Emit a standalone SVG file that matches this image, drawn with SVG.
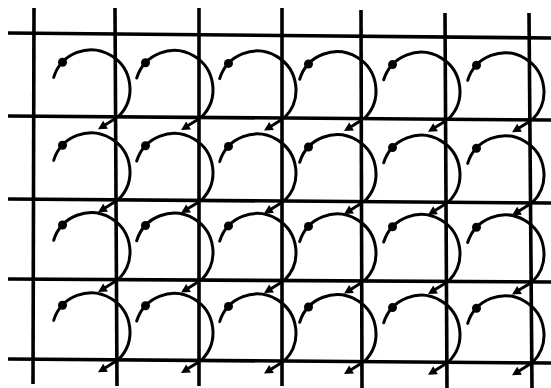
<svg xmlns="http://www.w3.org/2000/svg" xmlns:xlink="http://www.w3.org/1999/xlink" width="551" height="388" viewBox="0 0 551 388">
<style>
.grid{stroke:#000;stroke-width:3.6;stroke-linecap:butt;fill:none}
.arc{stroke:#000;stroke-width:3;fill:none;stroke-linecap:round}
.arr{stroke:#000;stroke-width:3;fill:none;stroke-linecap:round}
.blk{fill:#000}
</style>
<defs>
<g id="cellArrow">
<path class="arc" d="M -62.3 -39.4 A 39 39 0 1 1 2.6 -0.4"/>
<circle class="blk" cx="-53.5" cy="-54.6" r="4.5"/>
<line class="arr" x1="-1" y1="2" x2="-11" y2="8.2"/>
<polygon class="blk" points="-18,12.5 -8.1,12 -12.8,4"/>
</g>
</defs>
<rect width="551" height="388" fill="#fff"/>
<g id="grid">
<line class="grid" x1="8" y1="33" x2="551" y2="38"/>
<line class="grid" x1="8" y1="116" x2="551" y2="120"/>
<line class="grid" x1="8" y1="199" x2="551" y2="203"/>
<line class="grid" x1="8" y1="279" x2="551" y2="282"/>
<line class="grid" x1="8" y1="359" x2="551" y2="363"/>
<line class="grid" x1="34" y1="8" x2="33" y2="384"/>
<line class="grid" x1="115" y1="8" x2="117" y2="386"/>
<line class="grid" x1="199" y1="8" x2="199" y2="386"/>
<line class="grid" x1="282" y1="8" x2="282" y2="386"/>
<line class="grid" x1="361" y1="10" x2="362" y2="388"/>
<line class="grid" x1="445" y1="13" x2="447" y2="388"/>
<line class="grid" x1="529" y1="13" x2="532" y2="388"/>
</g>
<g id="connectors">
<use xlink:href="#cellArrow" x="116" y="116.8"/>
<use xlink:href="#cellArrow" x="199" y="117.4"/>
<use xlink:href="#cellArrow" x="282" y="118"/>
<use xlink:href="#cellArrow" x="362" y="118.6"/>
<use xlink:href="#cellArrow" x="446" y="119.2"/>
<use xlink:href="#cellArrow" x="530" y="119.8"/>
<use xlink:href="#cellArrow" x="116" y="199.8"/>
<use xlink:href="#cellArrow" x="199" y="200.4"/>
<use xlink:href="#cellArrow" x="282" y="201"/>
<use xlink:href="#cellArrow" x="362" y="201.6"/>
<use xlink:href="#cellArrow" x="446" y="202.2"/>
<use xlink:href="#cellArrow" x="530" y="202.8"/>
<use xlink:href="#cellArrow" x="116" y="279.6"/>
<use xlink:href="#cellArrow" x="199" y="280.1"/>
<use xlink:href="#cellArrow" x="282" y="280.5"/>
<use xlink:href="#cellArrow" x="362" y="281"/>
<use xlink:href="#cellArrow" x="446" y="281.4"/>
<use xlink:href="#cellArrow" x="530" y="281.9"/>
<use xlink:href="#cellArrow" x="116" y="359.8"/>
<use xlink:href="#cellArrow" x="199" y="360.4"/>
<use xlink:href="#cellArrow" x="282" y="361"/>
<use xlink:href="#cellArrow" x="362" y="361.6"/>
<use xlink:href="#cellArrow" x="446" y="362.2"/>
<use xlink:href="#cellArrow" x="530" y="362.8"/>
</g>
</svg>
